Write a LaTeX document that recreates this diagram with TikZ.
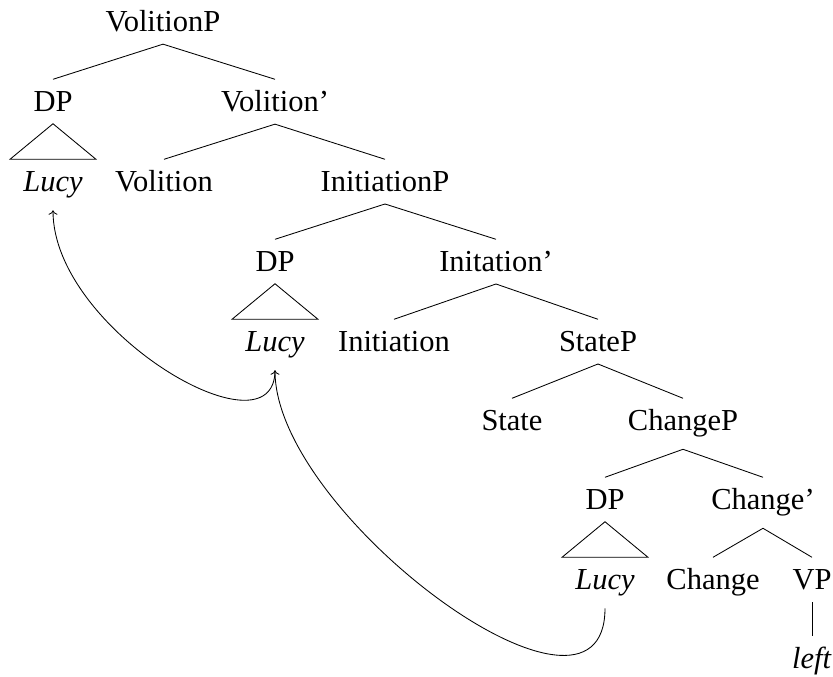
\documentclass[tikz,border=0pt]{standalone}
\usepackage{fontspec}
\setmainfont{Liberation Serif}
\usetikzlibrary{arrows.meta,calc}
\begin{document}
\begin{tikzpicture}[x=1pt,y=1pt,
  lbl/.style={inner xsep=2pt, inner ysep=11.5pt, text height=21pt,
              font=\fontsize{30.5}{36}\selectfont, anchor=base},
  branch/.style={line width=0.85pt},
  move/.style={line width=0.85pt, -{To[length=4.5pt,width=9pt]}}]
\useasboundingbox (0,0) rectangle (833,677);

% tree labels, one row per level
\node[lbl] (volP)   at (163,645) {VolitionP};
\node[lbl] (dp1)    at (53,565)  {DP};
\node[lbl] (volBar) at (275,565) {Volition’};
\node[lbl] (lucy1)  at (53,485)  {\textit{Lucy}};
\node[lbl] (vol)    at (164,485) {Volition};
\node[lbl] (iniP)   at (385,485) {InitiationP};
\node[lbl] (dp2)    at (275,405) {DP};
\node[lbl] (iniBar) at (496,405) {Initation’};
\node[lbl] (lucy2)  at (275,325) {\textit{Lucy}};
\node[lbl] (ini)    at (394,325) {Initiation};
\node[lbl] (stP)    at (598,325) {StateP};
\node[lbl] (st)     at (512,246) {State};
\node[lbl] (chP)    at (683,246) {ChangeP};
\node[lbl] (dp3)    at (605,167) {DP};
\node[lbl] (chBar)  at (763,167) {Change’};
\node[lbl] (lucy3)  at (605,87)  {\textit{Lucy}};
\node[lbl] (ch)     at (713,87)  {Change};
\node[lbl] (vP)     at (812,87)  {VP};
\node[lbl] (left)   at (812,8)   {\textit{left}};

% branches
\foreach \p/\c in {volP/dp1, volP/volBar, volBar/vol, volBar/iniP,
                   iniP/dp2, iniP/iniBar, iniBar/ini, iniBar/stP,
                   stP/st, stP/chP, chP/dp3, chP/chBar,
                   chBar/ch, chBar/vP, vP/left}
  \draw[branch] (\p.south) -- (\c.north);

% roofs over the DPs
\foreach \d/\l in {dp1/lucy1, dp2/lucy2, dp3/lucy3}
  \draw[branch] (\d.south) -- ($(\l.north)+(-43,0)$) -- ($(\l.north)+(43,0)$) -- cycle;

% movement arrows
\draw[move] (lucy2.south) .. controls +(0,-90) and +(0,-120) .. (lucy1.south);
\draw[move] (lucy3.south) .. controls +(0,-150) and +(0,-145) .. (lucy2.south);
\end{tikzpicture}
\end{document}
